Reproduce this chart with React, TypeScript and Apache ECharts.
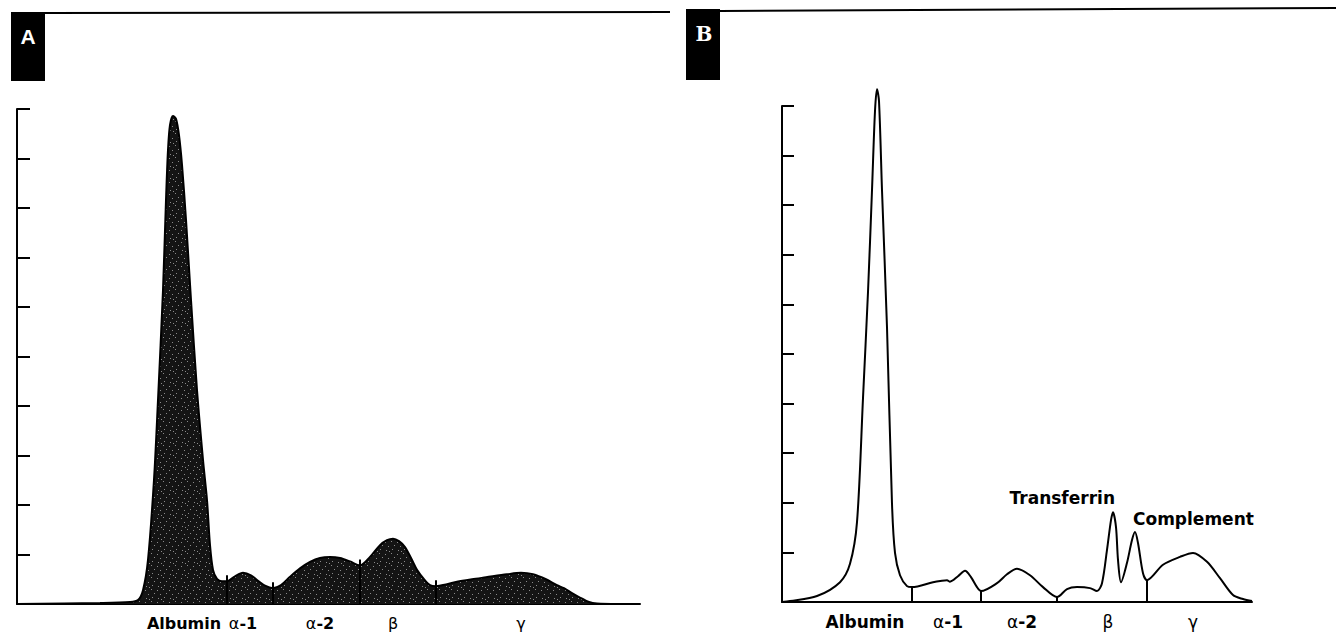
import React, { useEffect, useRef } from "react";
import * as echarts from "echarts";

// Panel A – densitometric trace (filled), x = migration distance, y = absorbance units (axis 0–10)
const traceA: number[][] = [
  [0, 0], [83, 0.02], [113, 0.04], [121, 0.08], [126, 0.28], [131, 0.89], [137, 2.51], [141, 4.12],
  [146, 6.34], [149, 8.16], [151, 9.17], [153, 9.68], [156, 9.86], [159, 9.8], [162, 9.47], [165, 8.87],
  [169, 7.76], [174, 6.14], [180, 4.32], [186, 2.91], [190, 2.1], [193, 1.19], [196, 0.69], [200, 0.51],
  [205, 0.46], [210, 0.46],
  [218, 0.56], [226, 0.63], [234, 0.58], [241, 0.47], [248, 0.37], [256, 0.32],
  [264, 0.38], [273, 0.55], [283, 0.72], [293, 0.85], [303, 0.93], [313, 0.95], [323, 0.93], [333, 0.86], [343, 0.78],
  [353, 0.95], [363, 1.19], [370, 1.29], [376, 1.32], [382, 1.27], [388, 1.15], [396, 0.85], [400, 0.69],
  [407, 0.5], [413, 0.38], [419, 0.36],
  [430, 0.4], [440, 0.45], [455, 0.5], [469, 0.54], [490, 0.6], [504, 0.63], [516, 0.6], [529, 0.5],
  [540, 0.38], [547, 0.32], [555, 0.22], [562, 0.14], [572, 0.04], [580, 0.01], [600, 0], [623, 0],
];
const dividersA = [210, 256, 343, 419];
const labelPosA = [167, 226, 303, 376, 504];

// Panel B – densitometric trace (line only)
const traceB: number[][] = [
  [0, 0], [8, 0.02], [35, 0.12], [58, 0.4], [68, 0.77], [75, 1.61], [81, 4.11], [86, 6.25], [90, 8.3],
  [93, 9.9], [95, 10.34], [97, 10.1], [100, 8.3], [105, 5.54], [110, 1.98], [113, 0.99], [118, 0.54],
  [125, 0.32], [130, 0.3],
  [151, 0.4], [160, 0.43], [165, 0.44], [168, 0.41], [176, 0.52], [183, 0.63], [189, 0.5], [195, 0.3], [199, 0.22],
  [215, 0.38], [225, 0.56], [235, 0.67], [248, 0.54], [261, 0.3], [275, 0.1],
  [285, 0.26], [295, 0.3], [308, 0.28], [315, 0.22], [320, 0.38],
  [325, 1.05], [329, 1.65], [331, 1.81], [334, 1.51], [336, 0.85], [339, 0.4],
  [345, 0.79], [350, 1.25], [353, 1.41], [356, 1.19], [361, 0.58], [365, 0.44],
  [381, 0.75], [398, 0.91], [411, 0.99], [425, 0.81], [438, 0.48], [451, 0.14], [461, 0.06], [470, 0.02],
];
const dividersB = [130, 199, 275, 365];
const labelPosB = [83, 166, 240, 326, 411];

const fractionNames = ["Albumin", "α-1", "α-2", "β", "γ"];
const peakNames = ["Transferrin", "Complement"];
const peakPosB = [331, 353];

const yMax = 10;

function valueAt(trace: number[][], x: number): number {
  for (let i = 1; i < trace.length; i++) {
    const [x0, y0] = trace[i - 1];
    const [x1, y1] = trace[i];
    if (x >= x0 && x <= x1) return y0 + ((y1 - y0) * (x - x0)) / (x1 - x0 || 1);
  }
  return 0;
}

const richName = (name: string) => {
  if (name.startsWith("α")) return `{g|α}{b|${name.slice(1)}}`;
  if (name === "β" || name === "γ") return `{g|${name}}`;
  return `{b|${name}}`;
};

const FONT = "DejaVu Sans";

function makeStipple(): HTMLCanvasElement {
  const c = document.createElement("canvas");
  c.width = 12;
  c.height = 12;
  const ctx = c.getContext("2d")!;
  ctx.fillStyle = "#141414";
  ctx.fillRect(0, 0, 12, 12);
  ctx.fillStyle = "#8a8a8a";
  const dots = [[1, 2], [7, 1], [4, 6], [10, 5], [2, 10], [8, 9], [5, 11]];
  dots.forEach(([x, y]) => ctx.fillRect(x, y, 1, 1));
  return c;
}

function xAxisFor(gridIndex: number, max: number, positions: number[], size: number) {
  return {
    type: "value",
    gridIndex,
    min: 0,
    max,
    axisLine: { show: true, onZero: false, lineStyle: { color: "#000", width: 2 } },
    axisTick: { show: false },
    splitLine: { show: false },
    axisLabel: {
      show: true,
      customValues: positions,
      margin: 11,
      formatter: (v: number) => {
        const i = positions.indexOf(v);
        return i >= 0 ? richName(fractionNames[i]) : "";
      },
      rich: {
        b: { fontFamily: FONT, fontWeight: "bold", fontSize: size, color: "#000" },
        g: { fontFamily: FONT, fontWeight: "normal", fontSize: size, color: "#000" },
      },
    },
  };
}

function yAxisFor(gridIndex: number, tickLen: number) {
  return {
    type: "value",
    gridIndex,
    min: 0,
    max: yMax,
    interval: 1,
    axisLine: { show: true, lineStyle: { color: "#000", width: 2 } },
    axisTick: { show: true, inside: true, length: tickLen, lineStyle: { color: "#000", width: 2 } },
    axisLabel: { show: false },
    splitLine: { show: false },
  };
}

function dividerSeries(idx: number, trace: number[][], xs: number[], extra: number) {
  return {
    type: "custom",
    xAxisIndex: idx,
    yAxisIndex: idx,
    clip: false,
    silent: true,
    data: xs.map((x) => [x, valueAt(trace, x) + extra]),
    renderItem: (_p: any, api: any) => {
      const x = api.value(0);
      const h = api.value(1);
      const p0 = api.coord([x, 0]);
      const p1 = api.coord([x, h]);
      return {
        type: "line",
        shape: { x1: p0[0], y1: p0[1], x2: p1[0], y2: p1[1] },
        style: { stroke: "#000", lineWidth: 2 },
      };
    },
  };
}

export default function App() {
  const ref = useRef<HTMLDivElement>(null);
  useEffect(() => {
    if (!ref.current) return;
    const chart = echarts.init(ref.current, undefined, { renderer: "svg" });
    const option: any = {
      animation: false,
      backgroundColor: "#fff",
      grid: [
        { left: 17, top: 109, width: 623, height: 495, outerBoundsMode: "none" },
        { left: 782, top: 106, width: 470, height: 496, outerBoundsMode: "none" },
      ],
      xAxis: [xAxisFor(0, 623, labelPosA, 16), xAxisFor(1, 470, labelPosB, 17)],
      yAxis: [yAxisFor(0, 13), yAxisFor(1, 12)],
      series: [
        {
          type: "line",
          xAxisIndex: 0,
          yAxisIndex: 0,
          data: traceA,
          smooth: 0.3,
          symbol: "none",
          clip: false,
          lineStyle: { color: "#000", width: 2 },
          areaStyle: { color: { image: makeStipple(), repeat: "repeat" }, opacity: 1 },
          z: 2,
        },
        dividerSeries(0, traceA, dividersA, 0.12),
        {
          type: "line",
          xAxisIndex: 1,
          yAxisIndex: 1,
          data: traceB,
          smooth: 0.3,
          symbol: "none",
          clip: false,
          lineStyle: { color: "#000", width: 2 },
          markPoint: {
            symbol: "circle",
            symbolSize: 1,
            itemStyle: { color: "rgba(0,0,0,0)" },
            data: peakNames.map((name, i) => ({
              coord: [peakPosB[i], valueAt(traceB, peakPosB[i])],
              label: {
                show: true,
                position: "inside",
                align: i === 0 ? "right" : "left",
                verticalAlign: "middle",
                offset: i === 0 ? [2, -14] : [-2, -13],
                formatter: name,
                color: "#000",
                fontFamily: FONT,
                fontWeight: "bold",
                fontSize: 17,
              },
            })),
          },
        },
        dividerSeries(1, traceB, dividersB, 0),
      ],
      graphic: [
        { type: "rect", shape: { x: 11, y: 12, width: 34, height: 69 }, style: { fill: "#000" } },
        {
          type: "text",
          x: 28,
          y: 36,
          style: { text: "A", fill: "#fff", font: "bold 21px 'Liberation Sans'", align: "center", verticalAlign: "middle" },
        },
        { type: "line", shape: { x1: 45, y1: 13, x2: 670, y2: 12 }, style: { stroke: "#000", lineWidth: 2 } },
        { type: "rect", shape: { x: 686, y: 9, width: 34, height: 71 }, style: { fill: "#000" } },
        {
          type: "text",
          x: 704,
          y: 34,
          style: { text: "B", fill: "#fff", font: "bold 20px 'DejaVu Serif'", align: "center", verticalAlign: "middle" },
        },
        { type: "line", shape: { x1: 720, y1: 11, x2: 1336, y2: 8 }, style: { stroke: "#000", lineWidth: 2 } },
      ],
    };
    chart.setOption(option);
    return () => chart.dispose();
  }, []);
  return <div ref={ref} style={{ position: "fixed", left: 0, top: 0, width: 1336, height: 634 }} />;
}
